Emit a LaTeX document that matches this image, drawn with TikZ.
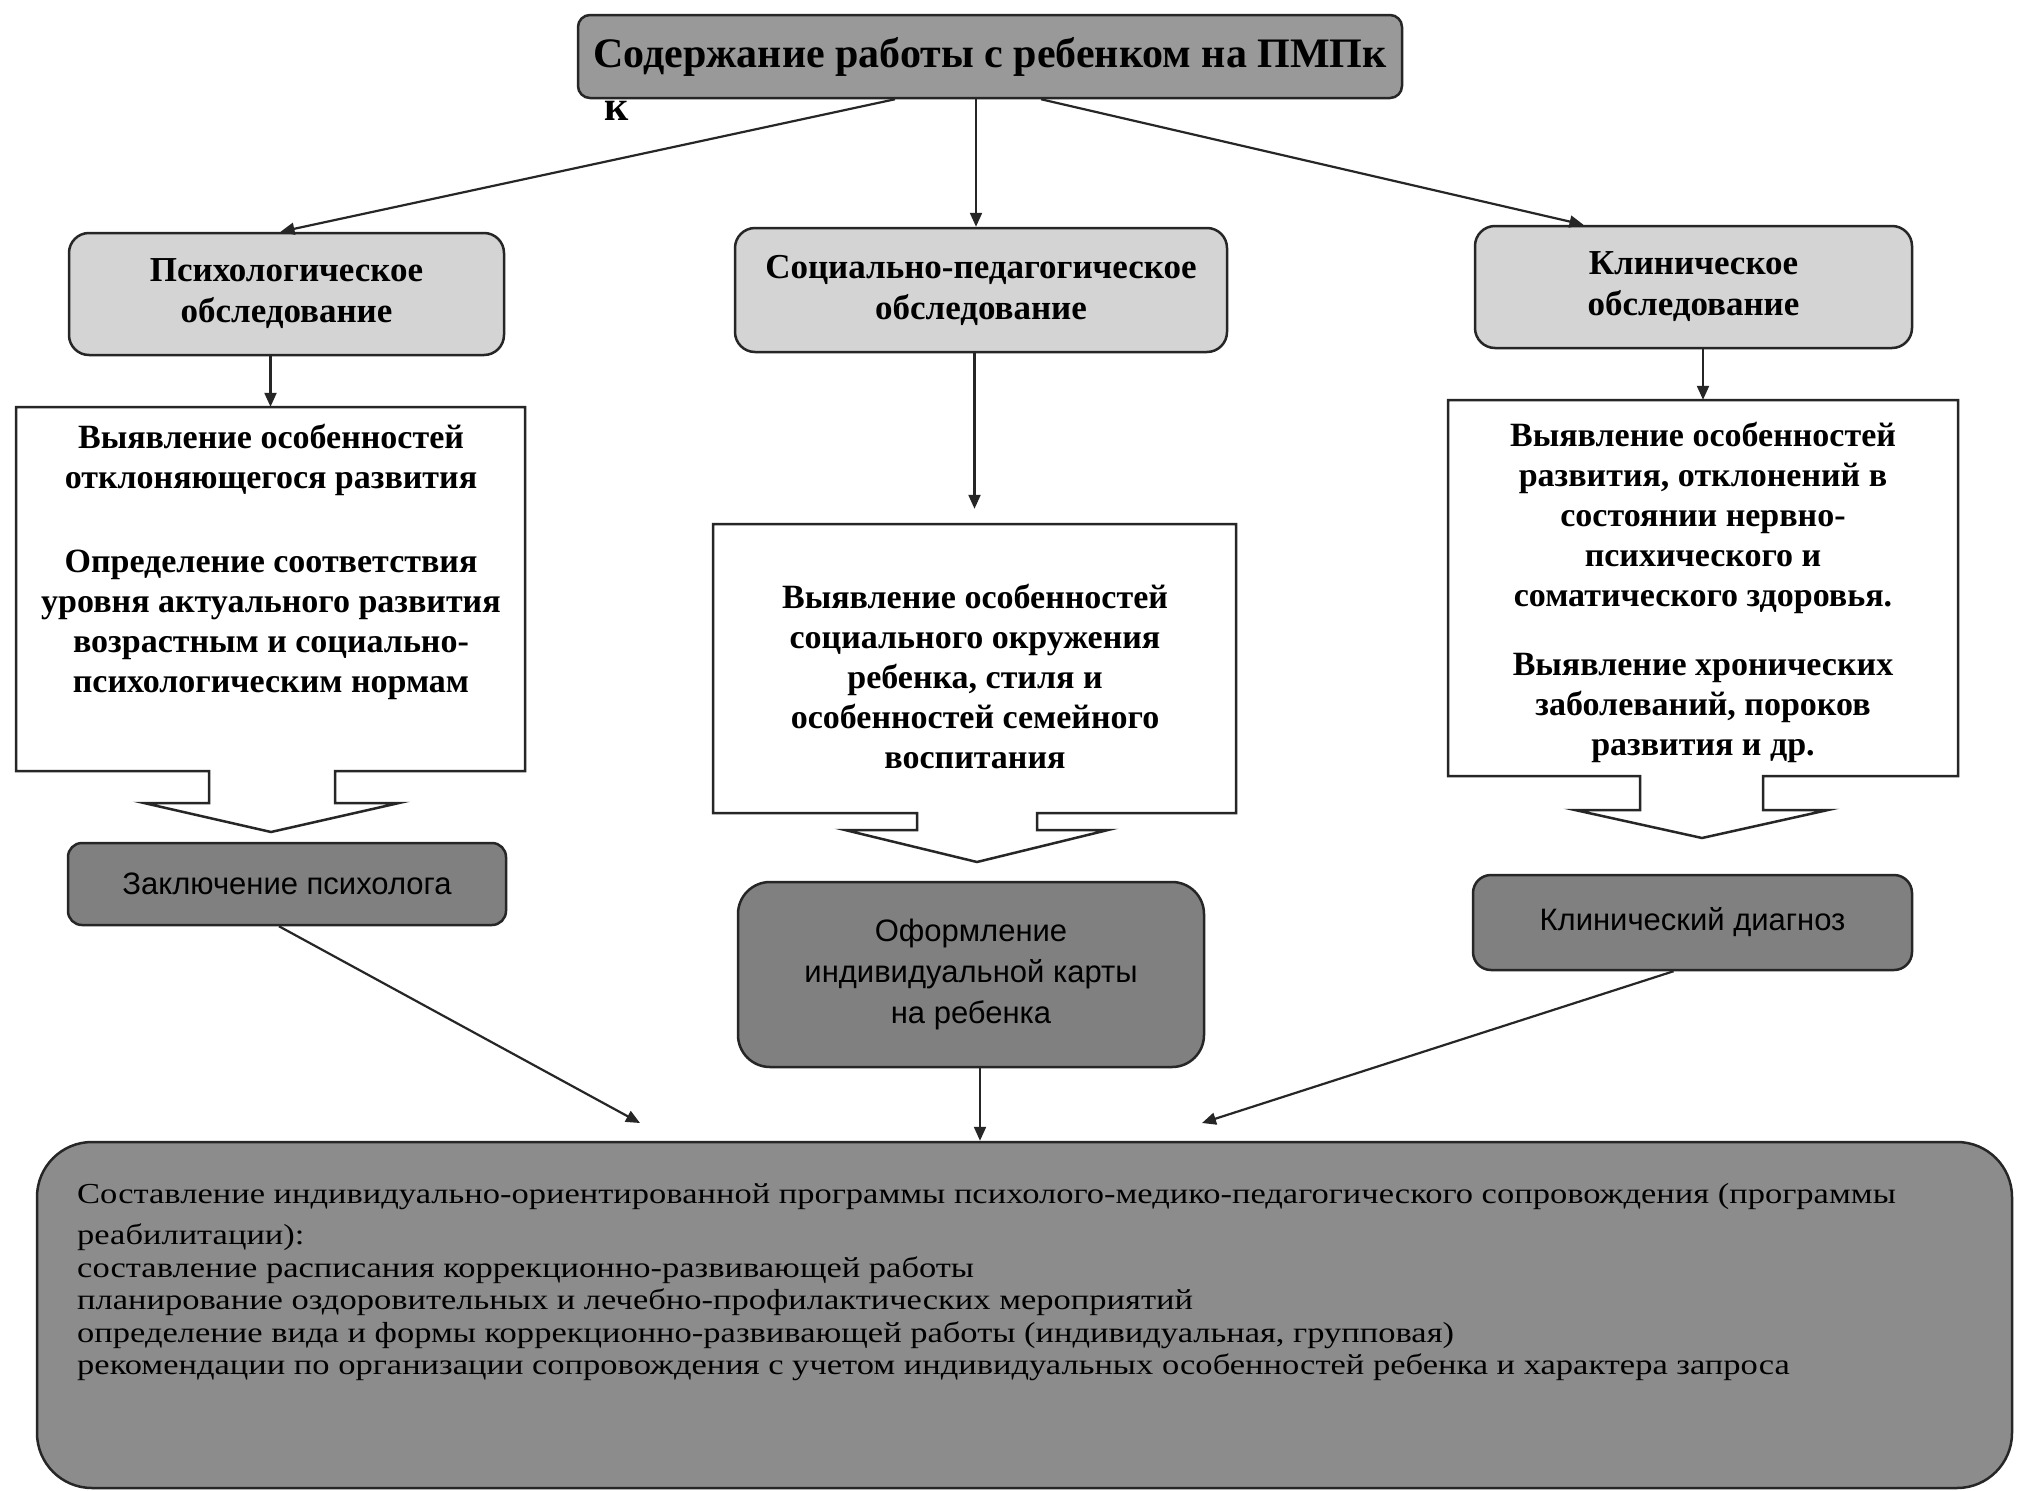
\documentclass[tikz,border=0pt]{standalone}
\usepackage{fontspec}
\setmainfont{Liberation Serif}
\newfontfamily\sansf{Liberation Sans}
\newfontfamily\botf[FakeStretch=1.19]{Liberation Serif}
\usetikzlibrary{arrows.meta}
\tikzset{
  line/.style={line width=2.2pt, draw=black!85},
  conn/.style={line, -{Triangle[length=14pt,width=12pt]}},
  titlebox/.style={draw=black!85, line width=2.5pt, rounded corners=12pt, fill=black!40,
    inner sep=0pt, minimum width=824pt, minimum height=83pt,
    font=\bfseries\fontsize{42}{46}\selectfont},
  hdr/.style={draw=black!85, line width=2.5pt, rounded corners=20pt, fill=black!17,
    inner sep=0pt, align=center, font=\bfseries\fontsize{35}{41}\selectfont},
  res/.style={draw=black!85, line width=2.5pt, rounded corners=16pt, fill=black!50,
    inner sep=0pt, align=center, font=\sansf\fontsize{31}{41}\selectfont},
  contbox/.style={draw=none, inner sep=0pt},
  conttext/.style={align=center, inner sep=0pt, font=\bfseries\fontsize{34}{40}\selectfont},
  outline/.style={draw=black!85, line width=2.5pt, fill=white, line join=miter},
  botbox/.style={draw=black!85, line width=2.5pt, rounded corners=55pt, fill=black!45,
    inner sep=0pt, minimum width=1975pt, minimum height=346pt},
  bottext/.style={align=left, inner sep=0pt, font=\botf\fontsize{29}{32.5}\selectfont}
}
\begin{document}
\begin{tikzpicture}[x=1pt,y=-1pt]
\useasboundingbox (0,0) rectangle (2022,1491);
\fill[white] (0,0) rectangle (2022,1491);

% title
\node[titlebox] (title) at (990,56.5) {Содержание работы с ребенком на ПМПк};
\node[inner sep=0pt, font=\bfseries\fontsize{42}{46}\selectfont] (kk) at (617,111) {к};

% headers
\node[hdr, minimum width=435pt, minimum height=122pt] (h1) at (286.5,294) {Психологическое\\обследование};
\node[hdr, minimum width=492pt, minimum height=124pt] (h2) at (981,290) {Социально-педагогическое\\обследование};
\node[hdr, minimum width=437pt, minimum height=122pt] (h3) at (1693.5,287) {Клиническое\\обследование};

% content boxes (outline with block arrow)
\node[contbox, minimum width=509pt, minimum height=364pt] (c1) at (270.5,589) {};
\node[contbox, minimum width=523pt, minimum height=289pt] (c2) at (974.5,668.5) {};
\node[contbox, minimum width=510pt, minimum height=376pt] (c3) at (1703,588) {};

\draw[outline] (16,407) -- (525,407) -- (525,771) -- (335,771) -- (335,803) -- (399,803)
  -- (271,832) -- (144,803) -- (209,803) -- (209,771) -- (16,771) -- cycle;
\draw[outline] (713,524) -- (1236,524) -- (1236,813) -- (1037,813) -- (1037,830) -- (1108,830)
  -- (977,862) -- (845,830) -- (917,830) -- (917,813) -- (713,813) -- cycle;
\draw[outline] (1448,400) -- (1958,400) -- (1958,776) -- (1763,776) -- (1763,810) -- (1828,810)
  -- (1702,838) -- (1575,810) -- (1640,810) -- (1640,776) -- (1448,776) -- cycle;

\node[conttext] (t1) at (271,562) {Выявление особенностей\\отклоняющегося развития\\[44pt]Определение соответствия\\уровня актуального развития\\возрастным и социально-\\психологическим нормам};
\node[conttext] (t2) at (975,676) {Выявление особенностей\\социального окружения\\ребенка, стиля и\\особенностей семейного\\воспитания};
\node[conttext] (t3) at (1703,592) {Выявление особенностей\\развития, отклонений в\\состоянии нервно-\\психического и\\соматического здоровья.\\[29pt]Выявление хронических\\заболеваний, пороков\\развития и др.};

% results
\node[res, minimum width=438pt, minimum height=82pt, rounded corners=14pt] (r1) at (287,884) {Заключение психолога};
\node[res, minimum width=466pt, minimum height=185pt, rounded corners=32pt] (r2) at (971,974.5) {Оформление\\индивидуальной карты\\на ребенка};
\node[res, minimum width=439pt, minimum height=95pt, rounded corners=18pt] (r3) at (1692.5,922.5) {Клинический диагноз};

% bottom
\node[botbox] (bot) at (1024.5,1315) {};
\node[bottext, anchor=north west] (bt) at (77,1183) {Составление индивидуально-ориентированной программы психолого-медико-педагогического сопровождения (программы\\[9pt]реабилитации):\\составление расписания коррекционно-развивающей работы\\планирование оздоровительных и лечебно-профилактических мероприятий\\определение вида и формы коррекционно-развивающей работы (индивидуальная, групповая)\\рекомендации по организации сопровождения с учетом индивидуальных особенностей ребенка и характера запроса};

% connectors
\draw[conn] ([xshift=-95pt]title.south) -- ([xshift=-6pt]h1.north);
\draw[conn] ([xshift=-14pt]title.south) -- ([xshift=-14pt]title.south |- h2.north);
\draw[conn] ([xshift=51pt]title.south) -- ([xshift=-110pt]h3.north);

\draw[conn] (c1.north |- h1.south) -- (c1.north);
\draw[conn, shorten >=15pt] (c2.north |- h2.south) -- (c2.north);
\draw[conn] (c3.north |- h3.south) -- (c3.north);

\coordinate (e1) at (640,1123);
\coordinate (e3) at (1202,1123);
\draw[conn] ([xshift=-8pt]r1.south) -- (e1);
\draw[conn] ([xshift=9pt]r2.south) -- ([xshift=9pt]r2.south |- bot.north);
\draw[conn] ([xshift=-19pt]r3.south) -- (e3);
\end{tikzpicture}
\end{document}
